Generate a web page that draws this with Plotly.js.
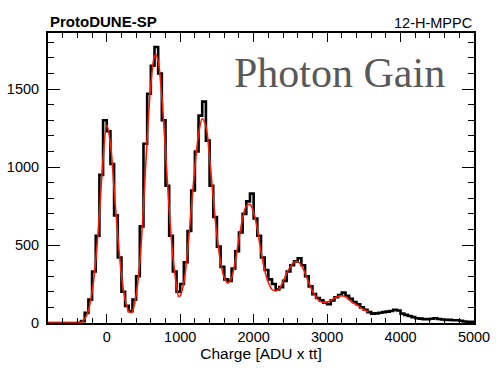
<!DOCTYPE html>
<html>
<head>
<meta charset="utf-8">
<script src="https://cdn.plot.ly/plotly-3.0.1.min.js"></script>
<style>html,body{margin:0;padding:0;background:#fff}#chart{width:496px;height:368px}</style>
</head>
<body>
<div id="chart"></div>
<script>
// Histogram binning (ADU x tt)
const BIN_START = -800;
const BIN_WIDTH = 50;

// Histogram counts per bin (from -800 to 5000)
const counts = [
  0, 0, 0, 0, 0, 0, 0, 0, 2, 12,
  65, 150, 330, 560, 950, 1300, 1230, 1020, 690, 420,
  200, 110, 75, 150, 300, 620, 1150, 1470, 1650, 1770,
  1600, 1300, 880, 560, 330, 200, 250, 390, 590, 850,
  1100, 1330, 1420, 1170, 880, 680, 490, 360, 280, 270,
  350, 460, 580, 700, 780, 830, 670, 560, 420, 340,
  280, 250, 215, 230, 270, 330, 370, 395, 415, 370,
  300, 235, 185, 160, 145, 130, 120, 145, 165, 180,
  195, 175, 155, 135, 120, 100, 85, 70, 60, 62,
  66, 70, 73, 77, 85, 80, 60, 52, 45, 38,
  30, 28, 25, 24, 27, 30, 26, 22, 20, 20,
  18, 18, 14, 10, 8, 8
];

// Fit curve (red)
const fitX = [-800, -400, -350, -300, -250, -200, -150, -100, -50, 0,
  50, 100, 150, 200, 250, 300, 330, 350, 400, 450,
  500, 550, 600, 650, 670, 700, 750, 800, 850, 900,
  950, 980, 1000, 1050, 1100, 1150, 1200, 1250, 1300, 1350,
  1400, 1450, 1500, 1550, 1600, 1650, 1700, 1750, 1800, 1850,
  1900, 1950, 2000, 2050, 2100, 2150, 2200, 2250, 2300, 2350,
  2400, 2450, 2500, 2550, 2600, 2650, 2700, 2750, 2800, 2850,
  2900, 2950, 3000, 3050, 3100, 3150, 3200, 3250, 3300, 3350,
  3400, 3450, 3500, 3565];
const fitY = [0, 0, 3, 25, 80, 200, 400, 700, 1050, 1270,
  1150, 860, 560, 310, 150, 75, 66, 75, 180, 390,
  750, 1180, 1530, 1710, 1720, 1680, 1450, 1100, 730, 430,
  240, 170, 175, 260, 460, 730, 1000, 1210, 1310, 1260,
  1060, 800, 560, 390, 290, 255, 290, 400, 540, 670,
  750, 760, 710, 600, 460, 340, 260, 215, 205, 220,
  265, 320, 360, 390, 395, 370, 320, 260, 205, 165,
  140, 132, 135, 145, 160, 172, 175, 168, 150, 130,
  118, 100, 85, 70];

const xTickVals = [0, 1000, 2000, 3000, 4000, 5000];
const yTickVals = [0, 500, 1000, 1500];

// build step histogram edges
const edgesX = [];
const stepY = [];
for (let i = 0; i < counts.length; i++) {
  edgesX.push(BIN_START + i * BIN_WIDTH);
  stepY.push(counts[i]);
}
edgesX.push(BIN_START + counts.length * BIN_WIDTH);
stepY.push(counts[counts.length - 1]);

const font = "Liberation Sans, Arial, Helvetica, sans-serif";

const traces = [
  {x: edgesX, y: stepY, type: 'scatter', mode: 'lines',
   line: {shape: 'hv', color: '#000', width: 2.6}, hoverinfo: 'skip'},
  {x: fitX, y: fitY, type: 'scatter', mode: 'lines',
   line: {shape: 'spline', color: '#ff1a00', width: 1.6}, hoverinfo: 'skip'}
];

const layout = {
  width: 496, height: 368,
  margin: {l: 48, r: 22, t: 33, b: 45},
  paper_bgcolor: '#fff', plot_bgcolor: '#fff',
  showlegend: false,
  font: {family: font, color: '#000', size: 14},
  xaxis: {
    range: [-800, 5000], showgrid: false, zeroline: false,
    showline: true, linecolor: '#000', linewidth: 2, mirror: 'ticks',
    ticks: 'inside', ticklen: 9, tickwidth: 1, tickcolor: '#000',
    tickvals: xTickVals, ticktext: xTickVals.map(String),
    tickfont: {family: font, size: 14.5},
    minor: {dtick: 200, tick0: 0, ticks: 'inside', ticklen: 5, tickwidth: 1, tickcolor: '#000', showgrid: false},
    title: {text: 'Charge [ADU x tt]', font: {family: font, size: 15.5}, standoff: 2}
  },
  yaxis: {
    range: [0, 1860], showgrid: false, zeroline: false,
    showline: true, linecolor: '#000', linewidth: 2, mirror: 'ticks',
    ticks: 'inside', ticklen: 12, tickwidth: 1, tickcolor: '#000',
    tickvals: yTickVals, ticktext: yTickVals.map(String),
    tickfont: {family: font, size: 14.5},
    ticklabelstandoff: 4,
    minor: {dtick: 100, tick0: 0, ticks: 'inside', ticklen: 6, tickwidth: 1, tickcolor: '#000', showgrid: false}
  },
  annotations: [
    {text: '<b>ProtoDUNE-SP</b>', xref: 'paper', yref: 'paper', x: 0, y: 1.038,
     xanchor: 'left', yanchor: 'middle', showarrow: false, font: {family: font, size: 15}},
    {text: '12-H-MPPC', xref: 'paper', yref: 'paper', x: 1, y: 1.036,
     xanchor: 'right', yanchor: 'middle', showarrow: false, font: {family: font, size: 14.5}},
    {text: 'Photon Gain', xref: 'paper', yref: 'paper', x: 0.433, y: (323 - 73) / 290,
     xanchor: 'left', yanchor: 'middle', showarrow: false,
     font: {family: 'Liberation Serif, Times New Roman, serif', size: 42, color: '#595959'}}
  ]
};

Plotly.newPlot('chart', traces, layout, {staticPlot: true, displayModeBar: false});
</script>
</body>
</html>
